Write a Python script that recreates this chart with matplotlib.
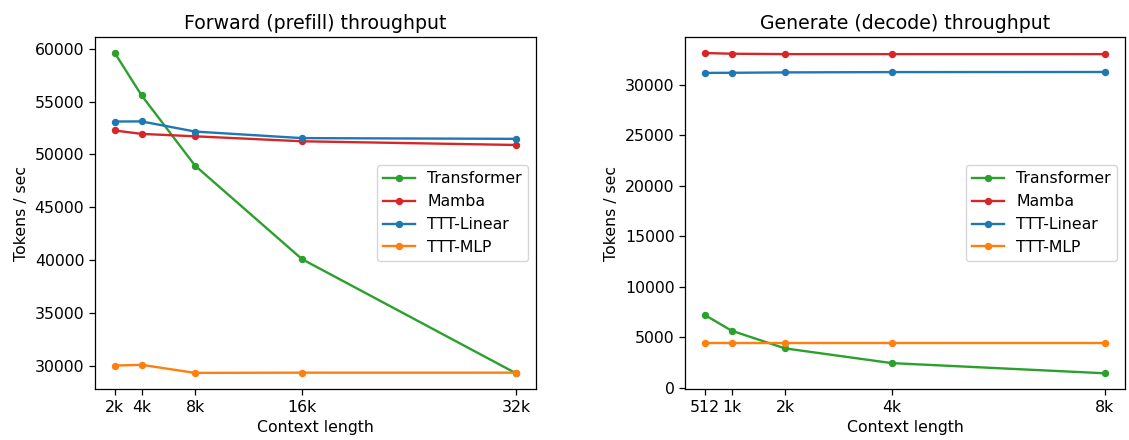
import matplotlib
matplotlib.use("Agg")
import matplotlib.pyplot as plt

plt.rcParams.update({
    "font.size": 11.3,
    "axes.linewidth": 0.9,
    "xtick.major.width": 0.9,
    "ytick.major.width": 0.9,
    "xtick.major.size": 4,
    "ytick.major.size": 4,
})

# Forward (prefill) throughput, tokens/sec
prefill_ctx = [2048, 4096, 8192, 16384, 32768]
prefill_ticklabels = ["2k", "4k", "8k", "16k", "32k"]
prefill_transformer = [59600, 55600, 48950, 40100, 29300]
prefill_mamba = [52270, 51950, 51720, 51250, 50900]
prefill_ttt_linear = [53120, 53130, 52170, 51550, 51480]
prefill_ttt_mlp = [30030, 30100, 29340, 29360, 29360]

# Generate (decode) throughput, tokens/sec
decode_ctx = [512, 1024, 2048, 4096, 8192]
decode_ticklabels = ["512", "1k", "2k", "4k", "8k"]
decode_transformer = [7200, 5650, 3900, 2440, 1430]
decode_mamba = [33170, 33100, 33060, 33060, 33060]
decode_ttt_linear = [31200, 31210, 31250, 31280, 31290]
decode_ttt_mlp = [4390, 4390, 4390, 4390, 4390]

series_names = ["Transformer", "Mamba", "TTT-Linear", "TTT-MLP"]
series_colors = ["#2ca02c", "#d62728", "#1f77b4", "#ff7f0e"]

fig = plt.figure(figsize=(11.29, 4.4), dpi=100)
ax1 = fig.add_axes([0.0839, 0.1152, 0.3909, 0.8007])
ax2 = fig.add_axes([0.6067, 0.1152, 0.3897, 0.8007])

panels = [
    (ax1, prefill_ctx, prefill_ticklabels,
     [prefill_transformer, prefill_mamba, prefill_ttt_linear, prefill_ttt_mlp],
     "Forward (prefill) throughput"),
    (ax2, decode_ctx, decode_ticklabels,
     [decode_transformer, decode_mamba, decode_ttt_linear, decode_ttt_mlp],
     "Generate (decode) throughput"),
]

for ax, ctx, ticklabels, values, title in panels:
    for name, color, ys in zip(series_names, series_colors, values):
        ax.plot(ctx, ys, marker="o", markersize=4.3, linewidth=1.7,
                color=color, label=name)
    ax.set_xticks(ctx)
    ax.set_xticklabels(ticklabels)
    ax.set_xlabel("Context length")
    ax.set_ylabel("Tokens / sec")
    ax.set_title(title, fontsize=13.6)
    ax.legend(loc="center right")

fig.savefig("out.png", dpi=100)
